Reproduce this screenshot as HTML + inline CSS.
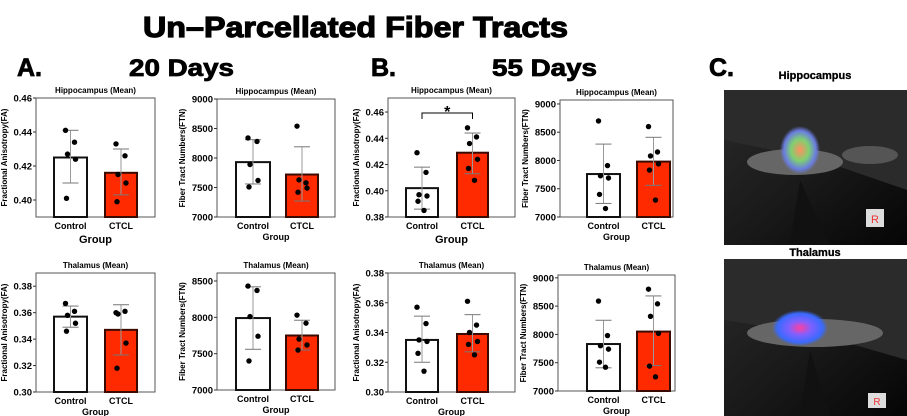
<!DOCTYPE html>
<html><head><meta charset="utf-8"><style>
html,body{margin:0;padding:0;background:#fff;width:907px;height:416px;overflow:hidden}
svg{display:block;font-family:"Liberation Sans",Arial,sans-serif}
</style></head><body>
<svg id="fig" width="907" height="416" viewBox="0 0 907 416">
<text x="143" y="37" font-size="29" font-weight="bold" stroke="#000" stroke-width="1.2" textLength="425" lengthAdjust="spacingAndGlyphs">Un–Parcellated Fiber Tracts</text>
<text x="17" y="76" font-size="25" font-weight="bold" stroke="#000" stroke-width="0.8">A.</text>
<text x="129" y="76" font-size="24" font-weight="bold" stroke="#000" stroke-width="0.8" textLength="105" lengthAdjust="spacingAndGlyphs">20 Days</text>
<text x="371" y="76" font-size="25" font-weight="bold" stroke="#000" stroke-width="0.8">B.</text>
<text x="492" y="76" font-size="24" font-weight="bold" stroke="#000" stroke-width="0.8" textLength="105" lengthAdjust="spacingAndGlyphs">55 Days</text>
<text x="709" y="76" font-size="25" font-weight="bold" stroke="#000" stroke-width="0.8">C.</text>
<text x="815" y="79" text-anchor="middle" font-size="11" font-weight="bold" stroke="#000" stroke-width="0.3">Hippocampus</text>
<text x="815" y="256" text-anchor="middle" font-size="11" font-weight="bold" stroke="#000" stroke-width="0.3">Thalamus</text>
<defs>
<linearGradient id="bg1" x1="0" y1="0" x2="1" y2="1"><stop offset="0" stop-color="#2a2a2a"/><stop offset="0.5" stop-color="#1a1a1a"/><stop offset="1" stop-color="#050505"/></linearGradient>
<radialGradient id="fib1"><stop offset="0" stop-color="#ff9060"/><stop offset="0.45" stop-color="#7fd070"/><stop offset="0.8" stop-color="#6a7de0"/><stop offset="1" stop-color="#6a7de0" stop-opacity="0"/></radialGradient>
<radialGradient id="fib2"><stop offset="0" stop-color="#ff3fa0"/><stop offset="0.4" stop-color="#8060ff"/><stop offset="0.8" stop-color="#3a6aff"/><stop offset="1" stop-color="#3a6aff" stop-opacity="0"/></radialGradient>
</defs>
<g>
<rect x="724" y="90" width="183" height="155" fill="url(#bg1)"/>
<polygon points="724,90 907,90 907,190 820,160 724,140" fill="#2b2b2b"/>
<polygon points="800,180 830,245 790,245" fill="#111"/>
<ellipse cx="795" cy="162" rx="48" ry="13" fill="#666"/>
<ellipse cx="870" cy="155" rx="28" ry="9" fill="#555"/>
<ellipse cx="800" cy="150" rx="20" ry="24" fill="url(#fib1)"/>
<rect x="866" y="209" width="18" height="18" fill="#ddd"/><text x="875" y="223" text-anchor="middle" font-size="11" fill="#e33">R</text>
</g>
<g>
<rect x="724" y="259" width="183" height="157" fill="url(#bg1)"/>
<polygon points="724,259 907,259 907,360 820,335 724,320" fill="#2b2b2b"/>
<polygon points="810,350 830,416 800,416" fill="#111"/>
<ellipse cx="815" cy="333" rx="68" ry="14" fill="#666"/>
<ellipse cx="800" cy="328" rx="28" ry="18" fill="url(#fib2)"/>
<rect x="868" y="393" width="18" height="15" fill="#ddd"/><text x="877" y="405" text-anchor="middle" font-size="10" fill="#e33">R</text>
</g>
<g id="charts"></g>
</svg>
<script>
// Data
const categories = ["Control", "CTCL"];
const means = [[0.425,0.416],[7930,7720],[0.402,0.429],[7760,7980],[0.357,0.347],[7990,7750],[0.335,0.339],[7830,8050]];
const errLow = [[0.410,0.403],[7560,7270],[0.386,0.413],[7240,7560],[0.349,0.328],[7560,7550],[0.320,0.327],[7410,7450]];
const errHigh = [[0.441,0.430],[8310,8190],[0.418,0.444],[8290,8410],[0.365,0.366],[8420,7960],[0.351,0.352],[8250,8680]];
const pointsControl = [[0.441,0.434,0.427,0.424,0.401],[8340,8280,7890,7620,7510],[0.429,0.414,0.397,0.396,0.392,0.385],[8700,7910,7730,7690,7400,7150],[0.367,0.361,0.358,0.352,0.346],[8430,8370,8010,7740,7400],[0.357,0.346,0.335,0.334,0.326,0.314],[8590,7980,7800,7740,7510,7420]];
const pointsCTCL = [[0.433,0.426,0.415,0.410,0.399],[8540,7580,7630,7490,7420],[0.448,0.441,0.436,0.424,0.417,0.408],[8600,8150,8080,7940,7830,7300],[0.360,0.361,0.359,0.337,0.318],[8030,7920,7700,7620,7550],[0.361,0.345,0.340,0.334,0.332,0.325],[8800,8540,8320,8020,7440,7250]];
const yTicks = [[0.40,0.42,0.44,0.46],[7000,7500,8000,8500,9000],[0.38,0.40,0.42,0.44,0.46],[7000,7500,8000,8500,9000],[0.30,0.32,0.34,0.36,0.38],[7000,7500,8000,8500],[0.30,0.32,0.34,0.36,0.38],[7000,7500,8000,8500,9000]];
const yDomains = [[0.39,0.46],[7000,9000],[0.38,0.4707],[7000,9070],[0.30,0.39],[7000,8610],[0.30,0.38],[7000,9050]];
const titles = ["Hippocampus (Mean)","Hippocampus (Mean)","Hippocampus (Mean)","Hippocampus (Mean)","Thalamus (Mean)","Thalamus (Mean)","Thalamus (Mean)","Thalamus (Mean)"];
// layout (pixels)
const boxes = [
 {l:36,r:155,t:98,b:217,bars:[[54,87],[105,137]],fa:true,big:true},
 {l:217,r:335,t:99,b:217,bars:[[236,270],[286,318]],fa:false},
 {l:388,r:515,t:98,b:217,bars:[[406,438],[457,488]],fa:true,big:true,star:true},
 {l:560,r:673,t:100,b:217,bars:[[587,620],[637,670]],fa:false},
 {l:36,r:155,t:273,b:392,bars:[[54,87],[105,137]],fa:true},
 {l:217,r:335,t:273,b:390,bars:[[236,270],[286,318]],fa:false},
 {l:388,r:515,t:273,b:392,bars:[[406,438],[457,488]],fa:true},
 {l:558,r:675,t:275,b:391,bars:[[587,620],[637,670]],fa:false}
];
const NS="http://www.w3.org/2000/svg";
const root=document.getElementById('charts');
function mk(tag,attrs,parent){const e=document.createElementNS(NS,tag);for(const k in attrs)e.setAttribute(k,attrs[k]);(parent||root).appendChild(e);return e;}
const jit=[-5,4,-3,5,-4,2];
boxes.forEach((bx,i)=>{
 const g=mk('g',{});
 
 
 const [d0,d1]=yDomains[i];
 const y=v=>bx.b-(v-d0)/(d1-d0)*(bx.b-bx.t);
 const cx=bx.l+(bx.r-bx.l)/2;
 const tt=mk('text',{x:cx,y:bx.t-5,'text-anchor':'middle','font-size':8,'font-weight':'bold'},g);tt.textContent=titles[i];
 
 
 const fr=mk('rect',{x:bx.l,y:bx.t,width:bx.r-bx.l,height:bx.b-bx.t,fill:'none',stroke:'#555','stroke-width':1},g);
 
 
 yTicks[i].forEach(tv=>{
  const yy=y(tv);
  mk('line',{x1:bx.l-3,x2:bx.l,y1:yy,y2:yy,stroke:'#333'},g);
  const t=mk('text',{x:bx.l-4,y:yy+3.5,'text-anchor':'end','font-size':9.5,'font-weight':'bold'},g);
  t.textContent=bx.fa?tv.toFixed(2):String(tv);
  
  
 });
 const yt=mk('text',{x:0,y:0,'text-anchor':'middle','font-size':8,'font-weight':'bold',transform:`translate(${bx.fa?bx.l-29:bx.l-32},${(bx.t+bx.b)/2}) rotate(-90)`},g);
 yt.textContent=bx.fa?'Fractional Anisotropy(FA)':'Fiber Tract Numbers(FTN)';
 
 
 categories.forEach((c,j)=>{
  const [x0,x1]=bx.bars[j];const xm=(x0+x1)/2;
  const br=mk('rect',{x:x0,y:y(means[i][j]),width:x1-x0,height:bx.b-y(means[i][j]),fill:j?'#ff2a00':'#fff',stroke:j?'#3a0a00':'#111','stroke-width':2},g);
  
  
  mk('line',{x1:xm,x2:xm,y1:y(errLow[i][j]),y2:y(errHigh[i][j]),stroke:'#999','stroke-width':1},g);
  mk('line',{x1:xm-8,x2:xm+8,y1:y(errLow[i][j]),y2:y(errLow[i][j]),stroke:'#777','stroke-width':1},g);
  mk('line',{x1:xm-8,x2:xm+8,y1:y(errHigh[i][j]),y2:y(errHigh[i][j]),stroke:'#777','stroke-width':1},g);
  const pts=j?pointsCTCL[i]:pointsControl[i];
  pts.forEach((v,k)=>{
   const p=mk('circle',{cx:xm+jit[k%jit.length],cy:y(v),r:2.7,fill:'#000'},g);
   
   
  });
  const cl=mk('text',{x:xm,y:bx.b+12,'text-anchor':'middle','font-size':9,'font-weight':'bold'},g);cl.textContent=c;
  
  
 });
 const gx=mk('text',{x:cx,y:bx.b+(bx.big?26:23),'text-anchor':'middle','font-size':bx.big?11:9,'font-weight':'bold'},g);gx.textContent='Group';
 
 
 if(bx.star){
  const xa=(bx.bars[0][0]+bx.bars[0][1])/2,xb=(bx.bars[1][0]+bx.bars[1][1])/2;
  const br=mk('path',{d:`M${xa},119 V113 H${xb} V119`,fill:'none',stroke:'#000','stroke-width':1},g);
  
  
  const st=mk('text',{x:(xa+xb)/2,y:117,'text-anchor':'middle','font-size':16,'font-weight':'bold'},g);st.textContent='*';
  
  
 }
});
</script>
</body></html>
